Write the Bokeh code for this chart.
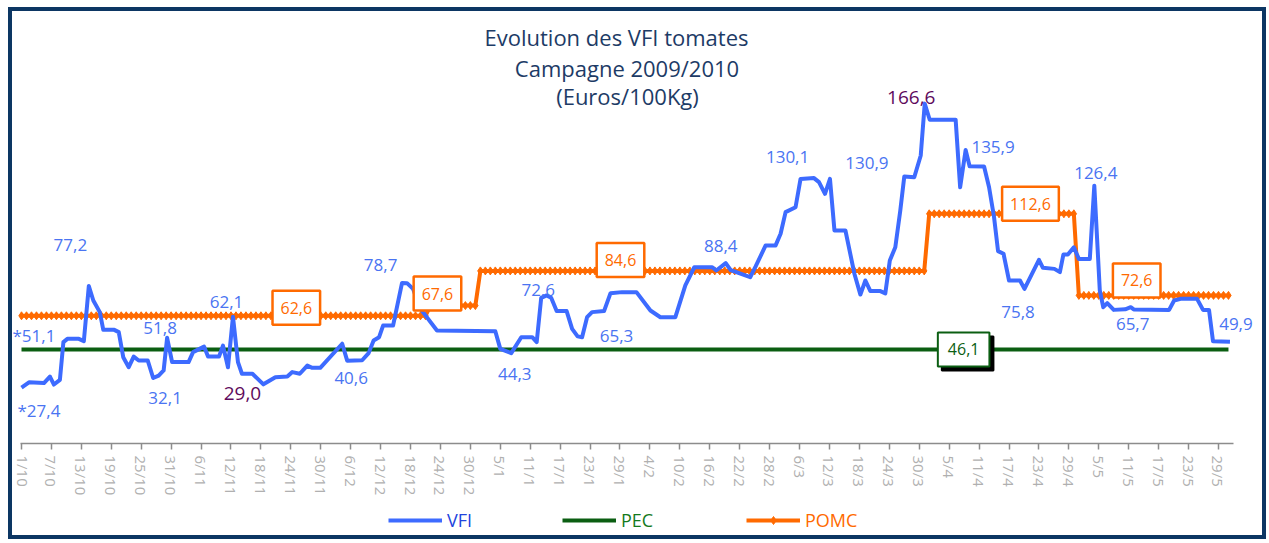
from bokeh.plotting import figure
from bokeh.layouts import column
from bokeh.models import Range1d, FixedTicker, Label, Legend, LegendItem
from bokeh.embed import file_html
from bokeh.resources import INLINE

# ---------------- data ----------------
TITLE_LINES = ["Evolution des VFI tomates", "Campagne 2009/2010", "(Euros/100Kg)"]

# day index: 0 = 1/10/2009
TICK_DAYS = list(range(0, 241, 6))
TICK_LABELS = ["1/10", "7/10", "13/10", "19/10", "25/10", "31/10", "6/11", "12/11", "18/11",
               "24/11", "30/11", "6/12", "12/12", "18/12", "24/12", "30/12", "5/1", "11/1",
               "17/1", "23/1", "29/1", "4/2", "10/2", "16/2", "22/2", "28/2", "6/3", "12/3",
               "18/3", "24/3", "30/3", "5/4", "11/4", "17/4", "23/4", "29/4", "5/5", "11/5",
               "17/5", "23/5", "29/5"]

VFI_DAYS = [0, 1.5, 4.5, 5.7, 6.5, 7.7, 8.4, 9.2, 11.5, 12.5, 13.5, 14.4, 15.7, 16.4, 18.6,
            19.5, 20.4, 21.5, 22.5, 23.5, 25.3, 26.4, 27.5, 28.5, 29.2, 30.2, 33.5, 34.4, 36.6,
            37.4, 39.6, 40.4, 41.4, 42.4, 43.4, 44.2, 46.3, 48.5, 50.9, 53.3, 54.3, 55.8, 57.3,
            58.3, 59.9, 64.3, 65.3, 68.3, 69.6, 70.6, 71.7, 72.5, 74.5, 76.3, 77.3, 78.5, 80.0,
            83.3, 95.0, 96.0, 98.2, 100.2, 102.4, 103.3, 104.2, 105.3, 106.2, 107.3, 109.3,
            110.4, 111.5, 112.4, 113.4, 114.4, 116.8, 118.1, 120.4, 123.3, 126.1, 128.1, 131.1,
            133.1, 134.9, 138.5, 139.3, 141.2, 142.2, 146.1, 147.2, 149.2, 151.2, 152.2, 153.2,
            155.2, 156.2, 158.9, 159.9, 161.1, 162.1, 163.0, 165.2, 167.0, 168.2, 169.2, 170.2,
            172.2, 173.2, 174.1, 175.2, 176.2, 177.0, 179.0, 180.3, 181.1, 182.1, 187.3, 188.2,
            189.3, 190.1, 193.0, 194.0, 195.0, 195.8, 196.9, 198.0, 200.2, 201.1, 204.0, 204.8,
            207.1, 208.2, 208.9, 209.8, 211.0, 212.0, 214.2, 215.1, 216.2, 216.9, 217.7, 219.0,
            221.3, 222.4, 223.0, 230.1, 231.1, 232.4, 235.7, 236.9, 238.1, 238.9, 242.3]
VFI_VALUES = [27.4, 30.0, 29.6, 32.8, 28.9, 31.2, 49.7, 51.3, 51.3, 50.2, 77.2, 70.1, 64.4, 55.7,
              55.7, 54.6, 42.3, 37.4, 42.6, 40.7, 40.7, 32.1, 33.3, 35.8, 51.8, 39.9, 39.9, 44.8,
              47.5, 42.6, 42.6, 48.0, 37.4, 62.1, 39.9, 34.2, 34.2, 29.0, 32.5, 32.8, 35.0, 34.2,
              38.2, 37.1, 37.1, 48.9, 40.6, 40.8, 44.3, 50.5, 52.1, 57.8, 57.8, 78.7, 78.6, 75.8,
              66.0, 55.4, 55.0, 46.4, 44.3, 52.1, 52.1, 49.7, 71.4, 72.6, 71.4, 64.9, 64.9, 56.2,
              52.5, 52.1, 61.9, 64.4, 64.9, 73.7, 74.2, 74.2, 65.2, 61.9, 61.9, 77.5, 86.4, 86.4,
              84.8, 88.4, 85.0, 81.5, 86.8, 97.1, 97.1, 102.8, 113.4, 115.8, 129.7, 130.1, 128.1,
              122.4, 129.7, 104.4, 104.4, 83.2, 73.0, 79.9, 74.7, 74.7, 73.6, 89.7, 96.2, 114.2,
              130.9, 130.5, 141.2, 166.6, 158.7, 158.7, 125.6, 143.9, 135.9, 135.8, 125.6, 110.9,
              94.3, 93.0, 79.9, 79.9, 75.8, 90.0, 86.1, 85.6, 84.0, 92.6, 92.6, 96.2, 90.5, 90.5,
              126.4, 75.0, 66.8, 68.8, 65.5, 65.8, 66.8, 65.7, 65.5, 70.1, 70.9, 70.9, 65.5, 65.5,
              50.1, 49.9]

PEC_VALUE = 46.1
LAST_DAY = 242

POMC_STEP_START = [0, 82, 92, 182, 212]
POMC_STEP_VALUE = [62.6, 67.6, 84.6, 112.6, 72.6]

# value labels on the VFI curve
LBL_TEXT = ["*27,4", "*51,1", "77,2", "51,8", "32,1", "62,1", "29,0", "40,6", "78,7", "44,3",
            "72,6", "65,3", "88,4", "130,1", "130,9", "166,6", "135,9", "126,4", "75,8", "65,7",
            "49,9"]
LBL_DAY = [3.5, 2.5, 9.8, 27.8, 28.8, 41.1, 44.3, 66.1, 72.0, 98.9, 103.6, 119.3, 140.2, 153.6,
           169.5, 178.4, 194.8, 215.4, 199.8, 222.8, 243.5]
LBL_VAL = [16.2, 52.9, 97.1, 56.4, 22.5, 69.6, 24.5, 31.9, 87.3, 34.3, 75.0, 52.9, 96.6, 140.2,
           137.3, 169.6, 145.1, 132.4, 64.7, 58.8, 58.8]
LBL_HIGHLIGHT = ["29,0", "166,6"]

# boxed labels
POMC_BOX_TEXT = ["62,6", "67,6", "84,6", "112,6", "72,6"]
POMC_BOX_DAY = [55.1, 83.4, 120.1, 202.3, 223.6]
POMC_BOX_LIFT = [8, 12, 11, 10, 15]
PEC_BOX_TEXT = "46,1"
PEC_BOX_DAY = 188.9

LEGEND_LABELS = ["VFI", "PEC", "POMC"]

# ---------------- derived ----------------
POMC_DAYS = list(range(0, LAST_DAY + 1))
POMC_VALUES = []
for d in POMC_DAYS:
    v = POMC_STEP_VALUE[0]
    for s, val in zip(POMC_STEP_START, POMC_STEP_VALUE):
        if d >= s:
            v = val
    POMC_VALUES.append(v)
PEC_DAYS = [0, LAST_DAY]
PEC_VALUES = [PEC_VALUE, PEC_VALUE]

# ---------------- style ----------------
FONT = "Open Sans"
BLUE = "#3d6bff"
LBL_BLUE = "#4a74f2"
GREEN = "#0b5e12"
ORANGE = "#ff6a00"
NAVY = "#1d3b66"
PURPLE = "#5e0a5c"
FRAME_NAVY = "#0c3663"

CW = 1250          # content width inside the border
H_MAIN = 492
H_LEG = 32

p = figure(width=CW, height=H_MAIN, output_backend="svg", toolbar_location=None,
           x_range=Range1d(-1.8045, 247.62), y_range=Range1d(0, 211.76),
           y_axis_location=None, min_border_left=0, min_border_right=6,
           min_border_top=0, min_border_bottom=60)
p.outline_line_color = None
p.xgrid.visible = False
p.ygrid.visible = False
p.background_fill_color = "white"
p.border_fill_color = "white"

ax = p.xaxis[0]
ax.ticker = FixedTicker(ticks=TICK_DAYS)
ax.bounds = (-0.2, 243.0)
ax.major_label_overrides = {d: l for d, l in zip(TICK_DAYS, TICK_LABELS)}
ax.major_label_orientation = "vertical"
ax.major_label_text_font = FONT
ax.major_label_text_font_size = "15px"
ax.major_label_text_color = "#b0b0b0"
ax.major_label_standoff = 6
ax.axis_line_color = "#8c8c8c"
ax.axis_line_width = 1.5
ax.major_tick_line_color = "#8c8c8c"
ax.major_tick_line_width = 1.5
ax.major_tick_out = 6
ax.major_tick_in = 0
ax.minor_tick_line_color = None

VFI_STYLE = dict(line_color=BLUE, line_width=4)
PEC_STYLE = dict(line_color=GREEN, line_width=4)
POMC_STYLE = dict(line_color=ORANGE, line_width=4)
POMC_MARK = dict(marker="diamond", size=8, fill_color=ORANGE, line_color=ORANGE)

p.line(PEC_DAYS, PEC_VALUES, **PEC_STYLE)
p.line(POMC_DAYS, POMC_VALUES, **POMC_STYLE)
p.scatter(POMC_DAYS, POMC_VALUES, **POMC_MARK)
p.line(VFI_DAYS, VFI_VALUES, line_join="round", **VFI_STYLE)

# value labels
for t, xd, yv in zip(LBL_TEXT, LBL_DAY, LBL_VAL):
    hl = t in LBL_HIGHLIGHT
    p.add_layout(Label(x=xd, y=yv, text=t, text_font=FONT,
                       text_font_size="19px" if hl else "17px",
                       text_color=PURPLE if hl else LBL_BLUE,
                       text_align="center", text_baseline="middle"))

# title
TITLE_DAY = [119.3, 121.4, 121.5]
TITLE_VAL = [199.5, 184.3, 170.1]
for t, xd, yv in zip(TITLE_LINES, TITLE_DAY, TITLE_VAL):
    p.add_layout(Label(x=xd, y=yv, text=t, text_font=FONT, text_font_size="22px",
                       text_color=NAVY, text_align="center", text_baseline="middle"))

# boxed POMC labels
BOX_PAD = (8, 8, 11, 11)
for t, d, lift in zip(POMC_BOX_TEXT, POMC_BOX_DAY, POMC_BOX_LIFT):
    v = float(t.replace(",", "."))
    p.add_layout(Label(x=d, y=v, y_offset=lift, text=t, text_font=FONT, text_font_size="16px",
                       text_color=ORANGE, text_align="center", text_baseline="middle",
                       background_fill_color="white", border_line_color=ORANGE,
                       border_line_width=2.5, padding=BOX_PAD))

# boxed PEC label with shadow
PEC_PAD = (10, 10, 11, 11)
p.add_layout(Label(x=PEC_BOX_DAY, y=PEC_VALUE, x_offset=4, y_offset=-4, text=PEC_BOX_TEXT,
                   text_font=FONT, text_font_size="16px", text_color="black",
                   text_align="center", text_baseline="middle",
                   background_fill_color="black", border_line_color="black",
                   border_line_width=2, padding=PEC_PAD))
p.add_layout(Label(x=PEC_BOX_DAY, y=PEC_VALUE, text=PEC_BOX_TEXT,
                   text_font=FONT, text_font_size="16px", text_color=GREEN,
                   text_align="center", text_baseline="middle",
                   background_fill_color="white", border_line_color=GREEN,
                   border_line_width=2, padding=PEC_PAD))

# ---------------- legend strip ----------------
# same series, drawn out of this strip's view; only their legend glyphs show
leg = figure(width=CW, height=H_LEG, output_backend="svg", toolbar_location=None,
             x_range=Range1d(0, CW), y_range=Range1d(-40, -8),
             x_axis_location=None, y_axis_location=None,
             min_border_left=0, min_border_right=0, min_border_top=0, min_border_bottom=0)
leg.outline_line_color = None
leg.xgrid.visible = False
leg.ygrid.visible = False
leg.border_fill_color = "white"
leg.background_fill_color = "white"

g_vfi = leg.line(VFI_DAYS, VFI_VALUES, **VFI_STYLE)
g_pec = leg.line(PEC_DAYS, PEC_VALUES, **PEC_STYLE)
g_pomc = leg.line(POMC_DAYS, POMC_VALUES, **POMC_STYLE)
g_pomc_m = leg.scatter(POMC_DAYS, POMC_VALUES, **POMC_MARK)

LEG_RENDERERS = [[g_vfi], [g_pec], [g_pomc, g_pomc_m]]
LEG_COLORS = ["#2244dd", "#147a1c", ORANGE]
LEG_X = [376, 550, 734]
for lbl, rs, c, lx in zip(LEGEND_LABELS, LEG_RENDERERS, LEG_COLORS, LEG_X):
    leg.add_layout(Legend(items=[LegendItem(label=lbl, renderers=rs)], location=(lx, 3),
                          orientation="horizontal", glyph_width=54, glyph_height=20,
                          label_standoff=5, label_text_font=FONT, label_text_font_size="18px",
                          label_text_color=c, padding=0, margin=0, border_line_color=None,
                          background_fill_alpha=0, spacing=0))

layout = column(p, leg, spacing=0)
layout.styles = {"border": "4px solid " + FRAME_NAVY, "margin-left": "8px",
                 "margin-top": "7px", "background-color": "white"}

open("out.html", "w").write(file_html(layout, INLINE))
